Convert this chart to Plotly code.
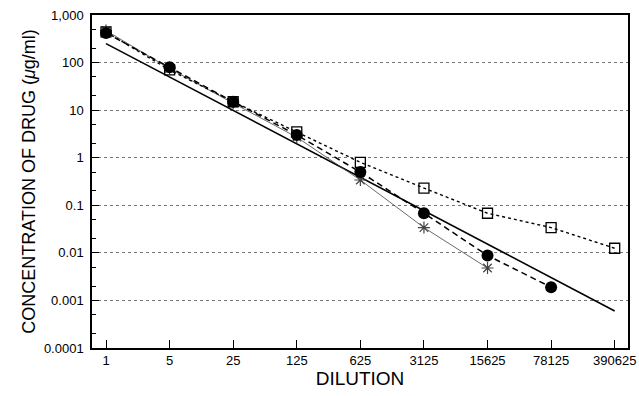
import plotly.graph_objects as go

dilution = [1, 5, 25, 125, 625, 3125, 15625, 78125, 390625]
x_ticktext = ["1", "5", "25", "125", "625", "3125", "15625", "78125", "390625"]

circle_x = [1, 5, 25, 125, 625, 3125, 15625, 78125]
circle_y = [420, 80, 15, 3.0, 0.50, 0.068, 0.0088, 0.0019]

square_x = [1, 5, 25, 125, 625, 3125, 15625, 78125, 390625]
square_y = [440, 70, 15, 3.5, 0.80, 0.23, 0.068, 0.034, 0.0125]

star_x = [1, 5, 25, 125, 625, 3125, 15625]
star_y = [470, 75, 14, 2.7, 0.34, 0.034, 0.0048]

fit_x = [1, 390625]
fit_y = [250, 0.0006]

y_tickvals = [1000, 100, 10, 1, 0.1, 0.01, 0.001, 0.0001]
y_ticktext = ["1,000", "100", "10", "1", "0.1", "0.01", "0.001", "0.0001"]

fig = go.Figure()
fig.add_trace(go.Scatter(x=fit_x, y=fit_y, mode="lines",
                         line=dict(color="black", width=1.6), showlegend=False))
fig.add_trace(go.Scatter(x=star_x, y=star_y, mode="lines+markers",
                         line=dict(color="#444", width=0.8),
                         marker=dict(symbol="asterisk-open", size=10,
                                     line=dict(color="black", width=1.2)),
                         showlegend=False))
fig.add_trace(go.Scatter(x=square_x, y=square_y, mode="lines+markers",
                         line=dict(color="black", width=1.4, dash="dot"),
                         marker=dict(symbol="square-open", size=10, color="black",
                                     line=dict(color="black", width=1.3)),
                         showlegend=False))
fig.add_trace(go.Scatter(x=circle_x, y=circle_y, mode="lines+markers",
                         line=dict(color="black", width=1.5, dash="6px,4px"),
                         marker=dict(symbol="circle", size=12, color="black"),
                         showlegend=False))

ff = "Liberation Sans, Arial, sans-serif"

fig.update_layout(
    width=639, height=396,
    margin=dict(l=92, r=11, t=15, b=48),
    paper_bgcolor="white", plot_bgcolor="white",
    font=dict(family=ff, color="black"),
    xaxis=dict(
        type="log", range=[-0.154, 5.738], automargin=False,
        tickvals=dilution, ticktext=x_ticktext,
        ticks="inside", ticklen=8, tickwidth=1.2, tickcolor="black",
        showgrid=False, zeroline=False,
        showline=True, linecolor="black", linewidth=1.5, mirror=True,
        tickfont=dict(size=13, family=ff, color="black"),
        title=dict(text="DILUTION", font=dict(size=19, family=ff, color="black"), standoff=2),
    ),
    yaxis=dict(
        type="log", range=[-4, 3], automargin=False,
        tickvals=y_tickvals, ticktext=y_ticktext,
        ticks="inside", ticklen=7, tickwidth=1.2, tickcolor="black",
        ticklabelstandoff=4,
        minor=dict(ticks="inside", ticklen=4, tickcolor="black", tickwidth=1, showgrid=False),
        showgrid=True, gridcolor="#777", griddash="dot", gridwidth=1,
        zeroline=False,
        showline=True, linecolor="black", linewidth=1.5, mirror=True,
        tickfont=dict(size=13, family=ff, color="black"),
        title=dict(text="CONCENTRATION OF DRUG (<i>μ</i>g/ml)", font=dict(size=18, family=ff, color="black"), standoff=4),
    ),
)

fig.write_html("out.html", config={"displayModeBar": False},
               post_script="document.body.style.margin='0';document.body.style.overflow='hidden';")
